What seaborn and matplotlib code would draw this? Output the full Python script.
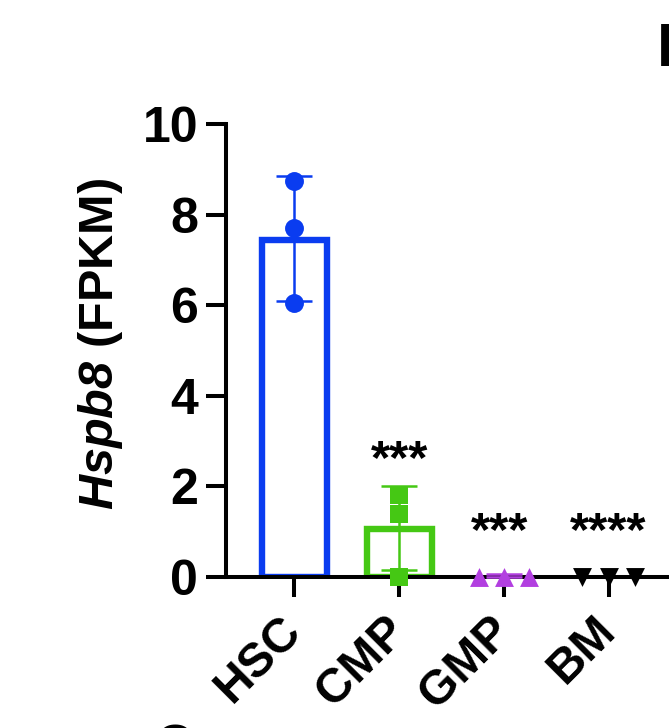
import matplotlib
matplotlib.use("Agg")
import matplotlib.pyplot as plt
import pandas as pd
import seaborn as sns

sns.set_theme(style="ticks")
plt.rcParams['font.family'] = ['Liberation Sans', 'DejaVu Sans']
plt.rcParams['mathtext.fontset'] = 'custom'
plt.rcParams['mathtext.bfit'] = 'Liberation Sans:italic:bold'

categories = ["HSC", "CMP", "GMP", "BM"]
means = [7.45, 1.05, 0.02, 0.0]
err_low = [6.1, 0.15, 0.0, 0.0]
err_high = [8.85, 2.0, 0.06, 0.0]
colors = ["#0a3cf0", "#45c814", "#b23fe0", "#000000"]
markers = ["o", "s", "^", "v"]
offsets = [[0, 0, 0], [0, 0, 0], [-0.24, 0, 0.24], [-0.25, 0, 0.25]]
point_values = [[8.75, 7.7, 6.05], [1.8, 1.4, 0.0], [0.0, 0.0, 0.0], [0.0, 0.0, 0.0]]
stars = ["", "***", "***", "****"]
star_x = [0, 0, -0.04, 0]
star_y = [0, 2.58, 0.98, 0.98]

W, H = 669, 728
fig = plt.figure(figsize=(W / 100, H / 100), dpi=100)
ax = fig.add_axes([226 / W, 1 - 577 / H, (W - 226) / W, (577 - 124) / H])

df = pd.DataFrame({"cell": categories, "mean": means})
sns.barplot(data=df, x="cell", y="mean", hue="cell", palette=colors, legend=False,
            fill=False, width=0.62, linewidth=4.6, ax=ax, zorder=2)
for patch, c in zip(ax.patches, colors):
    patch.set_edgecolor(c)
    patch.set_facecolor("none")
    patch.set_joinstyle("miter")
ax.patches[-1].set_visible(False)
ax.patches[-2].set_visible(False)

for i, c in enumerate(colors):
    ax.errorbar([i], [means[i]],
                yerr=[[means[i] - err_low[i]], [err_high[i] - means[i]]],
                color=c, lw=1.8, capsize=13, capthick=1.8, zorder=4.5, clip_on=False)
    pts = pd.DataFrame({"x": [i + o for o in offsets[i]], "y": point_values[i]})
    sns.scatterplot(data=pts, x="x", y="y", color=c, marker=markers[i], s=185,
                    linewidth=0, ax=ax, zorder=5, clip_on=False)
    if stars[i]:
        ax.text(i + star_x[i], star_y[i], stars[i], ha="center", va="center",
                fontsize=35.5, fontweight="bold", color="black", zorder=6)

ax.set_xlim(-0.654, 3.577)
ax.set_ylim(0, 10)
ax.set_yticks([0, 2, 4, 6, 8, 10])
ax.set_xticks(range(4))
ax.set_xticklabels(categories, rotation=45, ha="right", va="center", rotation_mode="anchor",
                   fontsize=34.5, fontweight="bold")
ax.tick_params(axis="y", length=14.5, width=2.9, labelsize=36, pad=5.5, color="black", labelcolor="black")
ax.tick_params(axis="x", length=14.5, width=2.9, pad=19, color="black", labelcolor="black")
for t in ax.get_yticklabels():
    t.set_fontweight("bold")
ax.set_xlabel("")
ax.set_ylabel(r"$\mathbfit{Hspb8}$ (FPKM)", fontsize=35, fontweight="bold", color="black")
ax.yaxis.set_label_coords(-0.228, 0.514)
sns.despine(ax=ax)
for s in ("left", "bottom"):
    ax.spines[s].set_linewidth(2.9)
    ax.spines[s].set_color("black")
    ax.spines[s].set_zorder(4)

# panel letters cropped by the image edges
fig.text(657 / W, 1 - 66 / H, "I", fontsize=44, fontweight="bold", color="black", ha="left", va="baseline")
fig.text(175 / W, 1 - 760 / H, "O", fontsize=36, fontweight="bold", color="black", ha="center", va="baseline")

fig.savefig("out.png", dpi=100)
